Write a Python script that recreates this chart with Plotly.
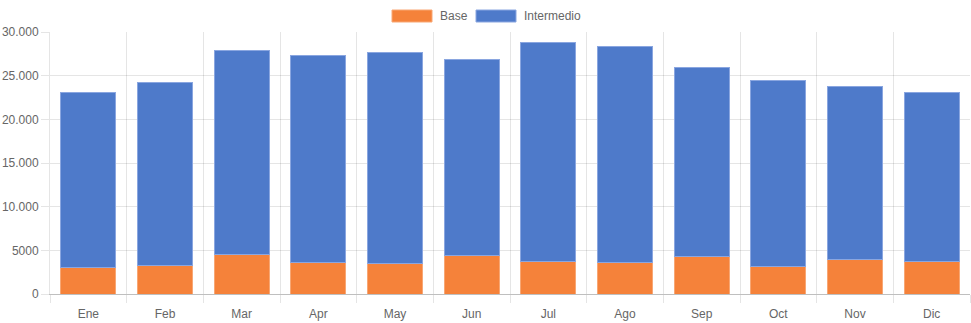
import plotly.graph_objects as go

months = ["Ene", "Feb", "Mar", "Apr", "May", "Jun", "Jul", "Ago", "Sep", "Oct", "Nov", "Dic"]
base = [3000, 3300, 4500, 3600, 3500, 4400, 3700, 3600, 4300, 3100, 3900, 3700]
total = [23100, 24200, 27900, 27300, 27700, 26800, 28850, 28300, 25900, 24400, 23800, 23100]
intermedio = [t - b for t, b in zip(total, base)]

y_ticks = [0, 5000, 10000, 15000, 20000, 25000, 30000]
y_tick_text = ["0", "5000", "10.000", "15.000", "20.000", "25.000", "30.000"]

series_names = ["Base", "Intermedio"]
colors = ["#F5823A", "#4E7ACA"]
borders = ["#F8A774", "#8AA6E0"]

W, H = 971, 323
L, R, T, B = 50, 1, 32, 29
pw, ph = W - L - R, H - T - B

fig = go.Figure()
for name, vals, c, bc in zip(series_names, [base, intermedio], colors, borders):
    fig.add_trace(go.Bar(x=months, y=vals, name=name, marker=dict(color=c, line=dict(color=bc, width=1)),
                         showlegend=False))

grid = "rgba(0,0,0,0.1)"
fig.update_layout(
    width=W, height=H, autosize=False,
    margin=dict(l=L, r=R, t=T, b=B, pad=0),
    barmode="stack", bargap=0.28,
    plot_bgcolor="white", paper_bgcolor="white",
    font=dict(family="Liberation Sans, Arial, sans-serif", size=12, color="#666"),
    xaxis=dict(type="category", tickson="boundaries", showgrid=True, gridcolor=grid, gridwidth=1,
               ticks="outside", ticklen=8, tickcolor=grid, showline=True, linecolor="rgba(0,0,0,0.25)",
               linewidth=1, range=[-0.5, 11.5], zeroline=False, ticklabelstandoff=9),
    yaxis=dict(range=[0, 30000], tickvals=y_ticks, ticktext=y_tick_text, showgrid=True, gridcolor=grid,
               ticks="outside", ticklen=8, tickcolor=grid, showline=True, linecolor=grid, zeroline=False),
)

# Legend drawn in paper coordinates
def px2x(px):
    return (px - L) / pw

def py2y(py):
    return (H - B - py) / ph

legend_boxes = [(392, 432), (476, 516)]
legend_text_x = [438, 522]
for name, c, bc, (x0, x1), tx in zip(series_names, colors, borders, legend_boxes, legend_text_x):
    fig.add_shape(type="rect", xref="paper", yref="paper", x0=px2x(x0), x1=px2x(x1),
                  y0=py2y(22), y1=py2y(10), fillcolor=c, line=dict(color=bc, width=1))
    fig.add_annotation(xref="paper", yref="paper", x=px2x(tx), y=py2y(16), text=name, showarrow=False,
                       xanchor="left", yanchor="middle", font=dict(size=12, color="#666"))

fig.write_html("out.html")
